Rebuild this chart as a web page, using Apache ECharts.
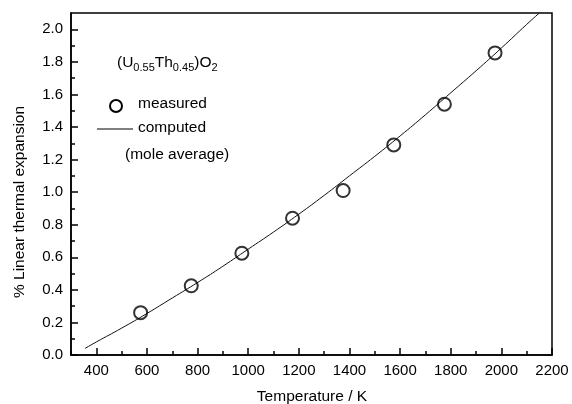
<!DOCTYPE html>
<html><head><meta charset="utf-8">
<script src="https://cdn.jsdelivr.net/npm/echarts@6/dist/echarts.min.js"></script>
<style>html,body{margin:0;padding:0;background:#fff}#c{width:572px;height:404px}</style>
</head><body><div id="c"></div>
<script>
// Measured points
var measT = [575, 775, 975, 1175, 1375, 1575, 1775, 1975];
var measV = [0.26, 0.425, 0.625, 0.84, 1.01, 1.29, 1.54, 1.855];
// Computed (mole average) curve
var compT = [355, 400, 500, 600, 700, 800, 900, 1000, 1100, 1200, 1300, 1400, 1500, 1600, 1700, 1800, 1900, 2000, 2100, 2150];
var compV = [0.04, 0.08, 0.165, 0.255, 0.35, 0.445, 0.545, 0.65, 0.755, 0.865, 0.98, 1.10, 1.22, 1.345, 1.475, 1.61, 1.745, 1.885, 2.03, 2.10];
// Ticks
var xMajor = [400, 600, 800, 1000, 1200, 1400, 1600, 1800, 2000, 2200];
var xMinor = [300, 500, 700, 900, 1100, 1300, 1500, 1700, 1900, 2100];
var yMajor = [0, 0.2, 0.4, 0.6, 0.8, 1.0, 1.2, 1.4, 1.6, 1.8, 2.0];
var yMinor = [0.1, 0.3, 0.5, 0.7, 0.9, 1.1, 1.3, 1.5, 1.7, 1.9];

var FONT = 'Liberation Sans, Arial, Helvetica, sans-serif';
var chart = echarts.init(document.getElementById('c'), null, {renderer: 'canvas'});
var gridRect = {left: 71, right: 20, top: 13, bottom: 49};
chart.setOption({
  animation: false,
  backgroundColor: '#fff',
  grid: [
    Object.assign({show: true, borderColor: '#000', borderWidth: 1.5, containLabel: false}, gridRect),
    Object.assign({show: false}, gridRect)
  ],
  xAxis: [
    {type: 'value', gridIndex: 0, min: 300, max: 2200, position: 'bottom',
     axisLine: {show: true, lineStyle: {color: '#000', width: 1.5}},
     axisTick: {show: true, inside: true, length: 7, customValues: xMajor, lineStyle: {color: '#000', width: 1.5}},
     axisLabel: {show: true, customValues: xMajor, color: '#000', fontSize: 15, fontFamily: FONT, margin: 8,
       formatter: function (v) { return String(Math.round(v)); }},
     splitLine: {show: false}},
    {type: 'value', gridIndex: 1, min: 300, max: 2200, position: 'bottom',
     axisLine: {show: false},
     axisTick: {show: true, inside: true, length: 4, customValues: xMinor, lineStyle: {color: '#000', width: 1.5}},
     axisLabel: {show: false},
     splitLine: {show: false}}
  ],
  yAxis: [
    {type: 'value', gridIndex: 0, min: 0, max: 2.1, position: 'left',
     axisLine: {show: true, lineStyle: {color: '#000', width: 1.5}},
     axisTick: {show: true, inside: true, length: 7, customValues: yMajor, lineStyle: {color: '#000', width: 1.5}},
     axisLabel: {show: true, customValues: yMajor, color: '#000', fontSize: 15, fontFamily: FONT, margin: 8,
       formatter: function (v) { return Number(v).toFixed(1); }},
     splitLine: {show: false}},
    {type: 'value', gridIndex: 1, min: 0, max: 2.1, position: 'left',
     axisLine: {show: false},
     axisTick: {show: true, inside: true, length: 4, customValues: yMinor, lineStyle: {color: '#000', width: 1.5}},
     axisLabel: {show: false},
     splitLine: {show: false}}
  ],
  series: [
    {name: 'computed', type: 'line', xAxisIndex: 0, yAxisIndex: 0,
     data: compT.map(function (t, i) { return [t, compV[i]]; }),
     smooth: true, showSymbol: false, symbol: 'none',
     lineStyle: {color: '#111', width: 1}, z: 2, clip: true},
    {name: 'measured', type: 'scatter', xAxisIndex: 0, yAxisIndex: 0,
     data: measT.map(function (t, i) { return [t, measV[i]]; }),
     symbol: 'circle', symbolSize: 13,
     itemStyle: {color: 'rgba(0,0,0,0)', borderColor: '#000', borderWidth: 2}, z: 3}
  ],
  graphic: [
    {type: 'text', left: 117, top: 55,
     style: {
       text: '{m|(U}{s|0.55}{m|Th}{s|0.45}{m|)O}{s|2}',
       fill: '#000',
       rich: {
         m: {fontSize: 15.5, fontFamily: FONT, fill: '#000', lineHeight: 20, verticalAlign: 'middle'},
         s: {fontSize: 11, fontFamily: FONT, fill: '#000', lineHeight: 10, verticalAlign: 'bottom'}
       }
     }},
    {type: 'circle', shape: {cx: 116, cy: 106, r: 6}, style: {fill: 'none', stroke: '#000', lineWidth: 2}},
    {type: 'text', x: 138, y: 104, style: {text: 'measured', font: '15.5px ' + FONT, fill: '#000', textVerticalAlign: 'middle'}},
    {type: 'line', shape: {x1: 97, y1: 129, x2: 133, y2: 129}, style: {stroke: '#000', lineWidth: 1}},
    {type: 'text', x: 138, y: 128, style: {text: 'computed', font: '15.5px ' + FONT, fill: '#000', textVerticalAlign: 'middle'}},
    {type: 'text', x: 125, y: 155, style: {text: '(mole average)', font: '15.5px ' + FONT, fill: '#000', textVerticalAlign: 'middle'}},
    {type: 'text', x: 20, y: 202, rotation: Math.PI / 2,
     style: {text: '% Linear thermal expansion', font: '15.5px ' + FONT, fill: '#000', textAlign: 'center', textVerticalAlign: 'middle'}},
    {type: 'text', x: 312, y: 397,
     style: {text: 'Temperature / K', font: '15.5px ' + FONT, fill: '#000', textAlign: 'center', textVerticalAlign: 'middle'}}
  ]
});
</script></body></html>
